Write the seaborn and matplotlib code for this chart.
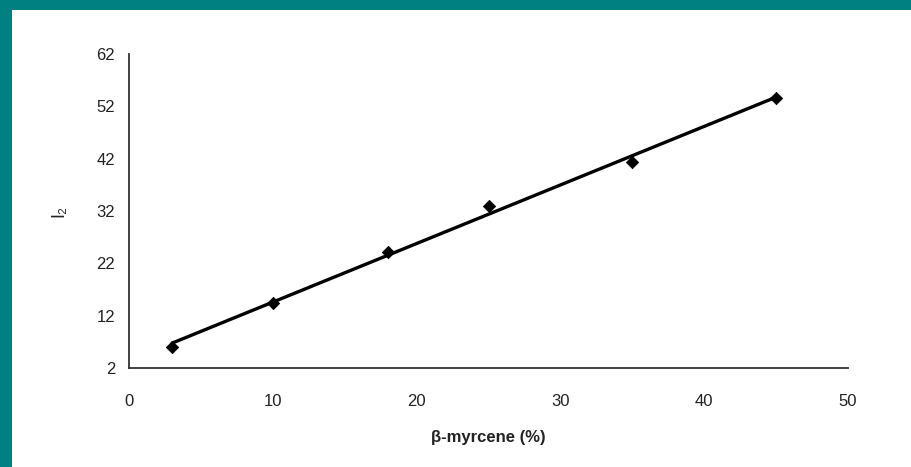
import matplotlib
matplotlib.use("Agg")
import matplotlib.pyplot as plt
import seaborn as sns
import pandas as pd
from matplotlib.patches import Rectangle

# ── Data ──────────────────────────────────────────────────────
myrcene = [3, 10, 18, 25, 35, 45]
i2      = [6.0, 14.4, 24.2, 33.0, 41.4, 53.6]
x_ticks = [0, 10, 20, 30, 40, 50]
y_ticks = [2, 12, 22, 32, 42, 52, 62]

df = pd.DataFrame({"myrcene": myrcene, "i2": i2})

sns.set_style("white")
plt.rcParams["font.family"] = ["Liberation Sans", "DejaVu Sans"]

fig = plt.figure(figsize=(9.11, 4.67), dpi=100)
fig.patch.set_facecolor("#008080")
# white panel, teal band only on top and left
fig.patches.append(Rectangle((12 / 911, 0), 1, 1 - 10 / 467,
                             transform=fig.transFigure, facecolor="white",
                             edgecolor="none", zorder=-10))

ax = fig.add_axes([129 / 911, 99 / 467, (848 - 129) / 911, (368 - 54) / 467])
ax.set_facecolor("none")

sns.regplot(data=df, x="myrcene", y="i2", ax=ax, ci=None, marker="D",
            color="black",
            scatter_kws={"s": 40, "zorder": 3, "alpha": 1,
                         "edgecolors": "black", "linewidths": 0.5},
            line_kws={"lw": 2.4})

ax.set_xlim(0, 50); ax.set_ylim(2, 62)
ax.set_xticks(x_ticks); ax.set_yticks(y_ticks)
ax.tick_params(axis="both", direction="out", length=5, width=1.2,
               color="#333333", labelsize=12, labelcolor="#222222", pad=5)
ax.tick_params(axis="x", pad=14)

for side in ["top", "right"]:
    ax.spines[side].set_visible(False)
for side in ["left", "bottom"]:
    ax.spines[side].set_color("#333333")
    ax.spines[side].set_linewidth(1.3)

ax.set_xlabel("β-myrcene (%)", fontsize=12, fontweight="bold", labelpad=15,
              color="#222222")
ax.set_ylabel("I₂", fontsize=13, labelpad=21, color="#222222")

plt.savefig("out.png", dpi=100, facecolor=fig.get_facecolor())
plt.close()
